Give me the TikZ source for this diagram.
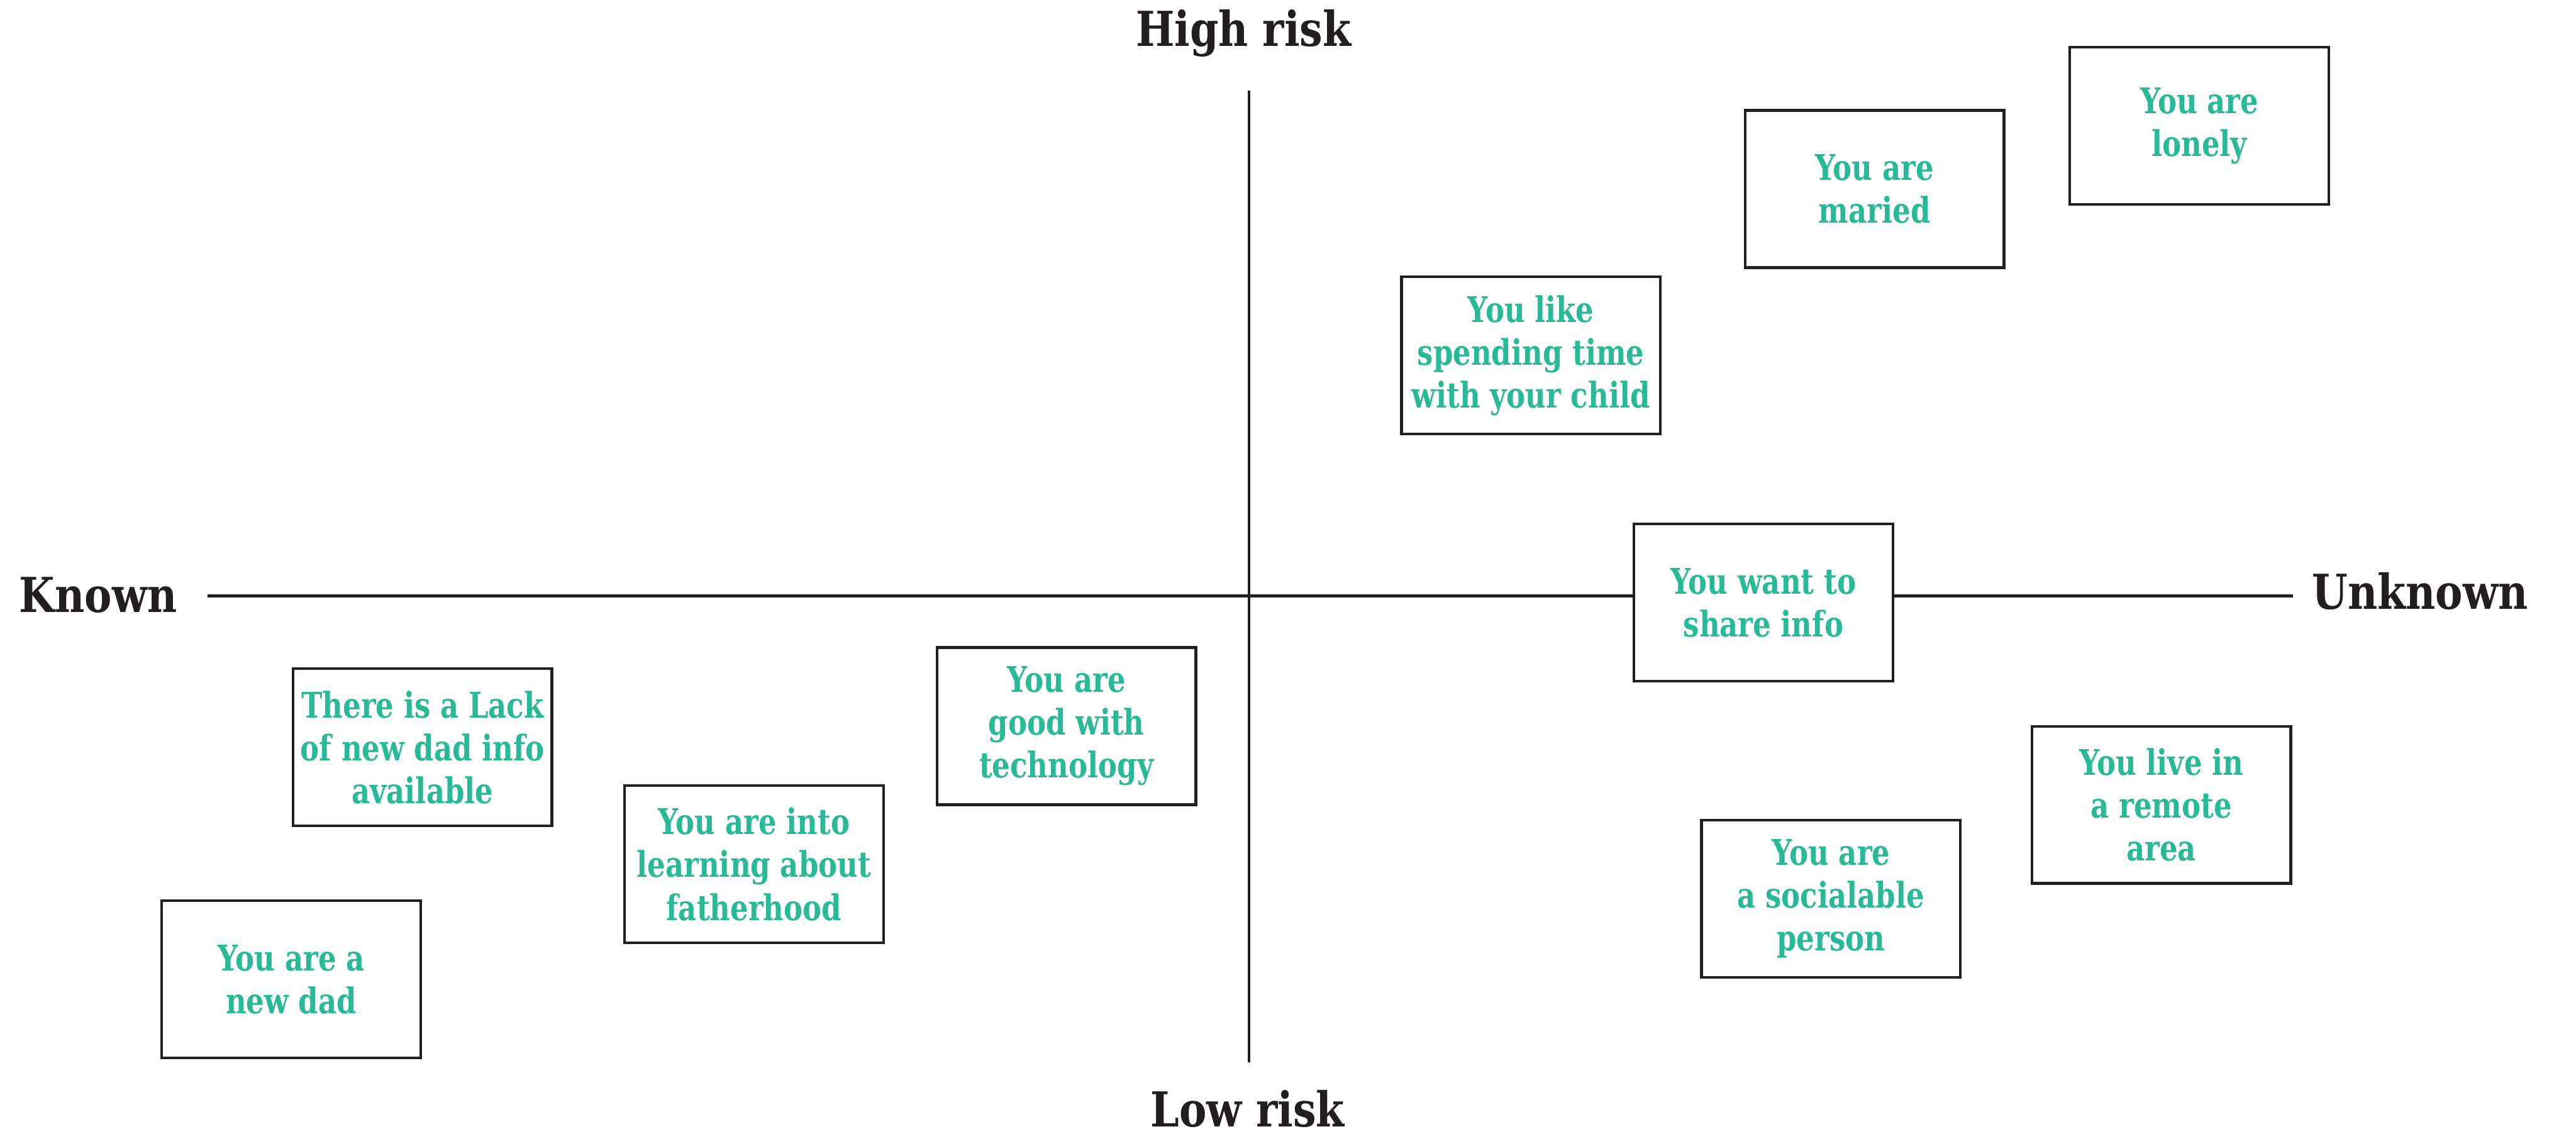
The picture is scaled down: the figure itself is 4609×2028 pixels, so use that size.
\documentclass[tikz,border=0pt]{standalone}
\usepackage{fontspec}
\setmainfont{DejaVu Serif}[FakeStretch=0.8]
\newfontfamily\labelfamily{DejaVu Serif}[FakeStretch=0.85]
\definecolor{boxgreen}{HTML}{28B996}
\definecolor{inkblack}{HTML}{231F20}

\begin{document}
\begin{tikzpicture}
[boxdecorate/.style={shape=rectangle,draw=inkblack,line width=0.05cm,fill=white,%
    text=boxgreen,align=center,minimum width=4.63cm,minimum height=2.81cm,inner sep=0pt,%
    font=\fontsize{18}{21.8}\selectfont\bfseries},%
  labeldecorate/.style={text=inkblack,inner sep=0pt,font=\labelfamily\fontsize{24.5}{30}\selectfont\bfseries},%
  linedecorate/.style={-,draw=inkblack,line width=0.05cm},%
  x=0.01cm,y=-0.01cm]
\useasboundingbox (0,0) rectangle (4609,2028);
%% axes
\coordinate (top) at (2235,162);
\coordinate (bottom) at (2235,1900);
\coordinate (left) at (371,1066);
\coordinate (right) at (4103,1066);
\path (top) edge[linedecorate] (bottom)
      (left) edge[linedecorate] (right);
%% axis labels
\node (highrisk) at (2225,83) [labeldecorate,anchor=base] {High risk};
\node (lowrisk) at (2232,2016) [labeldecorate,anchor=base] {Low risk};
\node (known) at (34,1095) [labeldecorate,anchor=base west] {Known};
\node (unknown) at (4136,1090) [labeldecorate,anchor=base west] {Unknown};
%% boxes
\foreach \nodename/\x/\y/\boxtext in {
  lonely/3935/225/{You are\\lonely},
  maried/3354/338/{You are\\maried},
  child/2739/636/{You like\\spending time\\with your child},
  share/3155/1078/{You want to\\share info},
  remote/3867/1440/{You live in\\a remote\\area},
  sociable/3276/1608/{You are\\a socialable\\person},
  technology/1908/1299/{You are\\good with\\technology},
  fatherhood/1349/1546/{You are into\\learning about\\fatherhood},
  lack/756/1337/{There is a Lack\\of new dad info\\available},
  newdad/521/1752/{You are a\\new dad}}
{
  \node (\nodename) at (\x,\y) [boxdecorate] {\boxtext};
}
\end{tikzpicture}
\end{document}
